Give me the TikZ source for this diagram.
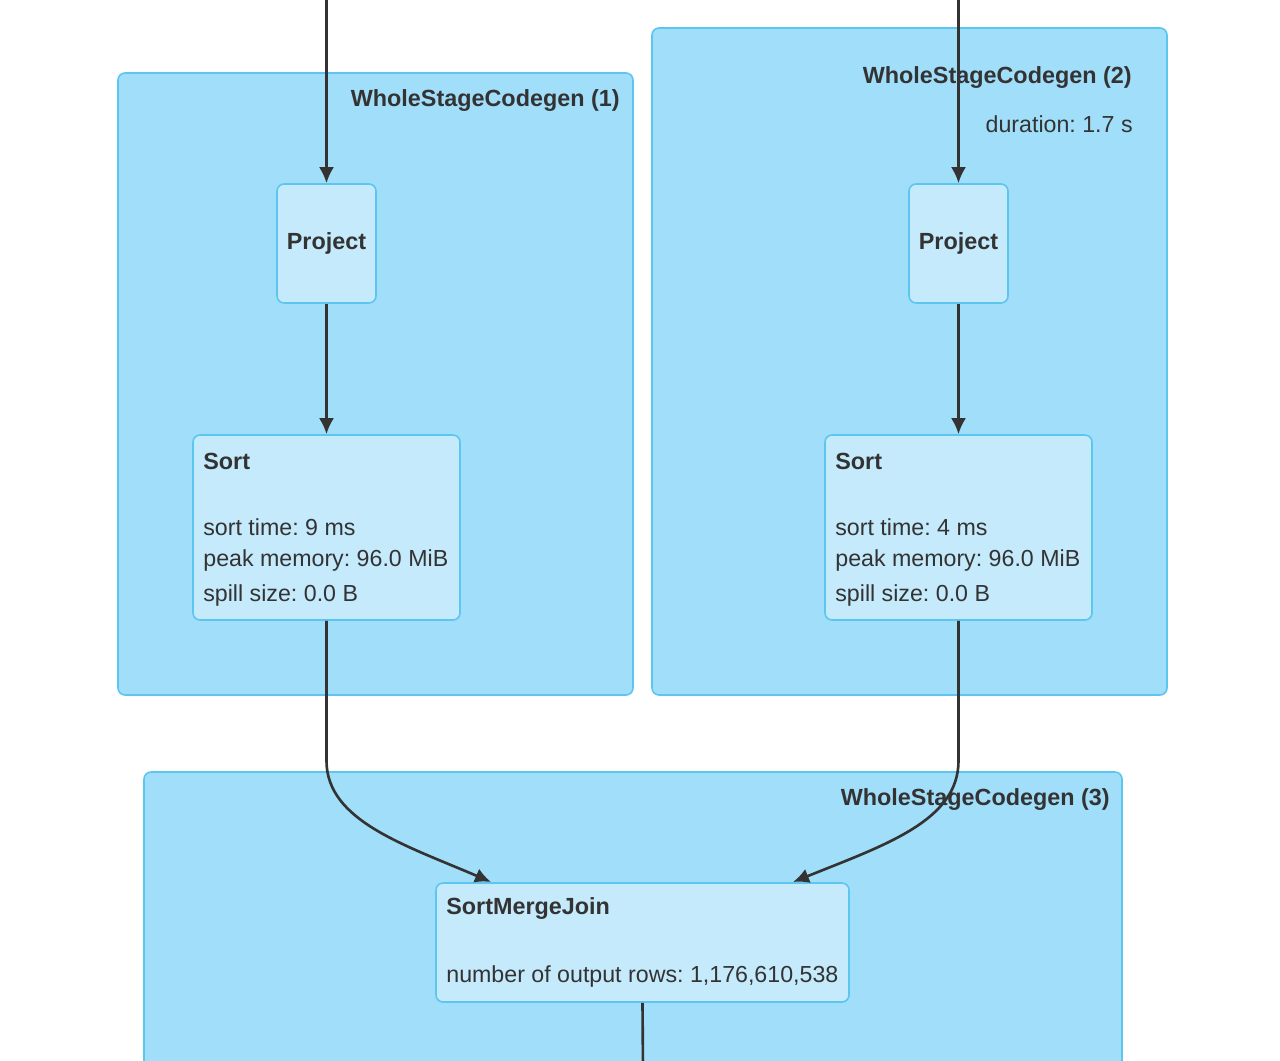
\documentclass[tikz,border=0pt]{standalone}
\usepackage{fontspec}
\setmainfont{Liberation Sans}
\frenchspacing
\usetikzlibrary{arrows.meta,positioning}
\definecolor{clusterfill}{HTML}{A1DEFA}
\definecolor{clusterline}{HTML}{5CC6EE}
\definecolor{opfill}{HTML}{C4EAFC}
\definecolor{edgecol}{HTML}{333333}
\tikzset{
    cluster/.style={draw=clusterline, fill=clusterfill, rounded corners=4pt, line width=0.9pt},
    op/.style={draw=clusterline, fill=opfill, rounded corners=4pt, line width=0.9pt},
    flow/.style={-{Latex[length=3.2mm, width=3mm]}, edgecol, line width=1.5pt},
    title/.style={font=\fontsize{13.3}{16}\selectfont\bfseries, text=edgecol, inner sep=0pt},
    metric/.style={font=\fontsize{13.2}{16}\selectfont, text=edgecol, inner sep=0pt}
}
\begin{document}
\begin{tikzpicture}
    \useasboundingbox (0,0) rectangle (25.6,-21.22);
    \clip (0,0) rectangle (25.6,-21.22);
    % stages
    \node[cluster, minimum width=10.3cm, minimum height=12.44cm] (wsc1) at (7.51,-7.68) {};
    \node[cluster, minimum width=10.3cm, minimum height=13.34cm] (wsc2) at (18.19,-7.23) {};
    \node[cluster, minimum width=19.56cm, minimum height=6.16cm] (wsc3) at (12.66,-18.52) {};
    \node[title, anchor=east] at (12.40,-2.02) {WholeStageCodegen (1)};
    \node[title, anchor=east] at (22.64,-1.56) {WholeStageCodegen (2)};
    \node[metric, anchor=east] at (22.66,-2.48) {duration: 1.7 s};
    \node[title, anchor=east] at (22.20,-16.00) {WholeStageCodegen (3)};
    % operators
    \node[op, minimum width=1.98cm, minimum height=2.38cm] (proj1) at (6.53,-4.87) {};
    \node[op, minimum width=1.98cm, minimum height=2.38cm] (proj2) at (19.17,-4.87) {};
    \node[title] at (proj1) {Project};
    \node[title] at (proj2) {Project};
    \node[op, minimum width=5.34cm, minimum height=3.7cm] (sort1) at (6.53,-10.55) {};
    \node[op, minimum width=5.34cm, minimum height=3.7cm] (sort2) at (19.17,-10.55) {};
    \foreach \s/\x/\t in {sort1/4.06/9, sort2/16.70/4} {
        \node[title, anchor=west] at (\x,-9.22) {Sort};
        \node[metric, anchor=west] at (\x,-10.54) {sort time: \t\ ms};
        \node[metric, anchor=west] at (\x,-11.22) {peak memory: 96.0 MiB};
        \node[metric, anchor=west] at (\x,-11.90) {spill size: 0.0 B};
    }
    \node[op, minimum width=8.26cm, minimum height=2.38cm] (smj) at (12.85,-18.85) {};
    \node[title, anchor=west] at (8.92,-18.18) {SortMergeJoin};
    \node[metric, anchor=west] at (8.92,-19.52) {number of output rows: 1,176,610,538};
    % edges
    \coordinate (in1) at (6.53,0.1);
    \coordinate (in2) at (19.17,0.1);
    \coordinate (out) at (12.86,-21.4);
    \draw[flow] (in1) -- (proj1);
    \draw[flow] (in2) -- (proj2);
    \draw[flow] (proj1) -- (sort1);
    \draw[flow] (proj2) -- (sort2);
    \draw[flow] (sort1.south) -- ++(0,-2.8) .. controls +(0,-1.2) and (8.1,-16.9) .. (9.82,-17.64);
    \draw[flow] (sort2.south) -- ++(0,-2.8) .. controls +(0,-1.2) and (17.7,-16.9) .. (15.86,-17.64);
    \draw[edgecol, line width=1.5pt] (smj.south) -- (out);
\end{tikzpicture}
\end{document}
